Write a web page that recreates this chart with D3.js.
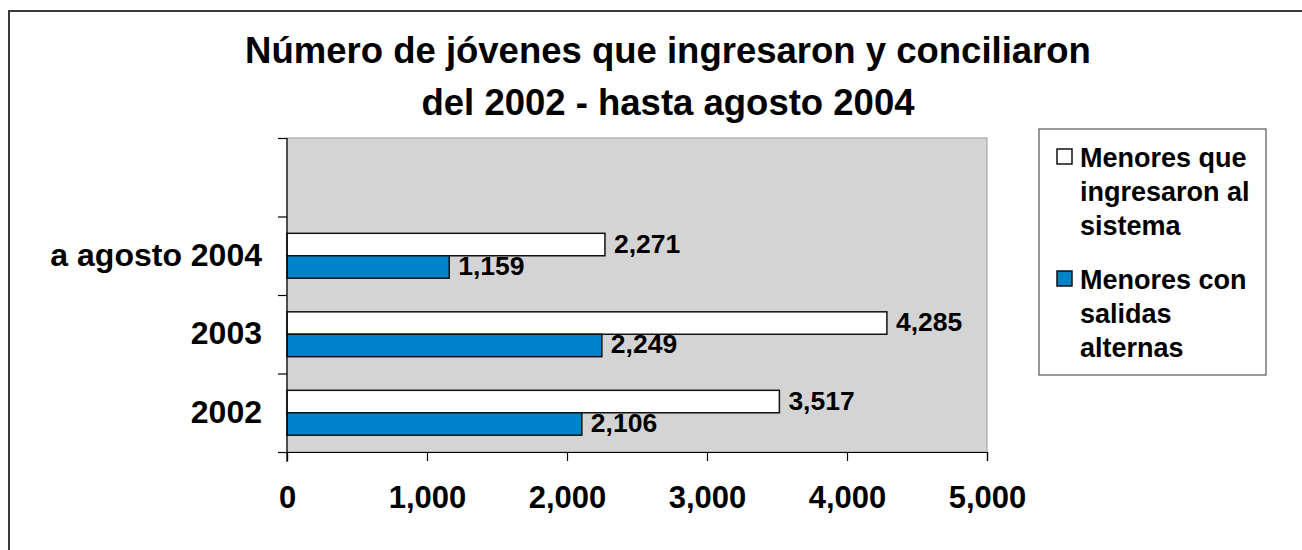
<!DOCTYPE html>
<html>
<head>
<meta charset="utf-8">
<script src="https://cdn.jsdelivr.net/npm/d3@7"></script>
<style>
  html, body { margin: 0; padding: 0; background: #ffffff; }
  svg { display: block; }
  text { font-family: "Liberation Sans", Arial, sans-serif; font-weight: bold; fill: #000; }
</style>
</head>
<body>
<svg id="chart" width="1302" height="550"></svg>
<script>
// ---- data ----
const titleLines = ["Número de jóvenes que ingresaron y conciliaron", "del 2002 - hasta agosto 2004"];
const categories = ["", "a agosto 2004", "2003", "2002"];          // top to bottom
const seriesNames = ["Menores que ingresaron al sistema", "Menores con salidas alternas"];
const ingresaron = [null, 2271, 4285, 3517];
const salidas = [null, 1159, 2249, 2106];
const xTicks = [0, 1000, 2000, 3000, 4000, 5000];
const legendLines = [["Menores que", "ingresaron al", "sistema"], ["Menores con", "salidas", "alternas"]];
const colors = ["#ffffff", "#0082c8"];

// ---- layout ----
const svg = d3.select("#chart");
const plot = { left: 287, right: 987, top: 138, bottom: 452 };

// outer frame
svg.append("rect")
  .attr("x", 9).attr("y", 11).attr("width", 1400).attr("height", 700)
  .attr("fill", "none").attr("stroke", "#3a3a3a").attr("stroke-width", 2);

// title
svg.append("g").selectAll("text").data(titleLines).join("text")
  .attr("x", 668).attr("y", (d, i) => 63 + i * 52)
  .attr("text-anchor", "middle").style("font-size", "36.5px")
  .text(d => d);

const x = d3.scaleLinear().domain([0, 5000]).range([plot.left, plot.right]);
const y = d3.scaleBand().domain(categories.map((c, i) => i)).range([plot.top, plot.bottom]).padding(0);
const ySub = d3.scaleBand().domain([0, 1]).range([0, y.bandwidth()]).paddingInner(0).paddingOuter(0.75);

// plot area
svg.append("rect")
  .attr("x", plot.left).attr("y", plot.top)
  .attr("width", plot.right - plot.left).attr("height", plot.bottom - plot.top)
  .attr("fill", "#d4d4d4").attr("stroke", "#9a9a9a").attr("stroke-width", 1);

// bars
const series = [ingresaron, salidas];
const barData = [];
series.forEach((vals, s) => vals.forEach((v, i) => { if (v != null) barData.push({ s, i, v }); }));

svg.append("g").selectAll("rect").data(barData).join("rect")
  .attr("x", x(0))
  .attr("y", d => y(d.i) + ySub(d.s))
  .attr("width", d => x(d.v) - x(0))
  .attr("height", ySub.bandwidth())
  .attr("fill", d => colors[d.s])
  .attr("stroke", "#111").attr("stroke-width", 1.5);

// value labels
const fmt = d3.format(",");
svg.append("g").selectAll("text").data(barData).join("text")
  .attr("x", d => x(d.v) + 9)
  .attr("y", d => y(d.i) + ySub(d.s) + ySub.bandwidth() / 2 + 8)
  .style("font-size", "26.5px")
  .text(d => fmt(d.v));

// axes
const xAxis = d3.axisBottom(x).tickValues(xTicks).tickFormat(fmt).tickSize(9).tickSizeOuter(9).tickPadding(0);
const gx = svg.append("g").attr("transform", `translate(0,${plot.bottom})`).call(xAxis);
gx.select(".domain").attr("stroke", "#000").attr("stroke-width", 1.2);
gx.selectAll(".tick line").attr("stroke", "#000").attr("stroke-width", 1.2);
gx.selectAll(".tick text").attr("y", 56).attr("dy", null)
  .style("font-size", "31px").style("font-family", "'Liberation Sans', Arial, sans-serif")
  .style("font-weight", "bold").attr("fill", "#000");

const yAxisScale = d3.scalePoint().domain(d3.range(categories.length + 1)).range([plot.top, plot.bottom]);
const gy = svg.append("g").attr("transform", `translate(${plot.left},0)`)
  .call(d3.axisLeft(yAxisScale).tickSize(9).tickSizeOuter(0).tickFormat(""));
gy.select(".domain").attr("stroke", "#000").attr("stroke-width", 1.2)
  .attr("d", `M0,${plot.top}V${plot.bottom + 10}`);
gy.selectAll(".tick line").attr("stroke", "#000").attr("stroke-width", 1.2);

// category labels
svg.append("g").selectAll("text").data(categories).join("text")
  .attr("x", 262).attr("y", (d, i) => y(i) + y.bandwidth() / 2 + 10)
  .attr("text-anchor", "end").style("font-size", "32px")
  .text(d => d);

// legend
const lg = svg.append("g");
lg.append("rect").attr("x", 1039).attr("y", 129).attr("width", 227).attr("height", 246)
  .attr("fill", "#fff").attr("stroke", "#555").attr("stroke-width", 1.2);
const legendTop = [167, 289];
legendLines.forEach((lines, s) => {
  lg.append("rect").attr("x", 1057).attr("y", legendTop[s] - 18).attr("width", 15).attr("height", 15)
    .attr("fill", colors[s]).attr("stroke", "#111").attr("stroke-width", 1.5);
  lg.append("g").selectAll("text").data(lines).join("text")
    .attr("x", 1080).attr("y", (d, i) => legendTop[s] + i * 34)
    .style("font-size", "27px").text(d => d);
});
</script>
</body>
</html>
